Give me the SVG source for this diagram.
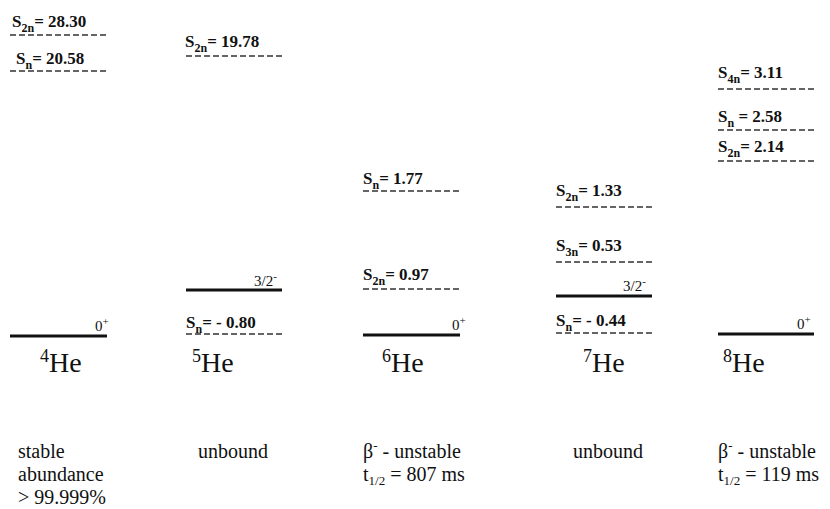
<svg xmlns="http://www.w3.org/2000/svg" width="830" height="509" viewBox="0 0 830 509">
<style>
  .lbl { font-family: "Liberation Serif", "Times New Roman", serif; font-weight: bold; font-size: 17px; fill: #111; }
  .sub { font-size: 12px; }
  .sup { font-size: 11px; }
  .jp { font-weight: normal; font-size: 15px; }
  .dash { stroke: #333; stroke-width: 1.3; stroke-dasharray: 6 3; fill: none; }
  .lvl { stroke: #111; stroke-width: 2.8; fill: none; }
  .nuc { font-family: "Liberation Serif", "Times New Roman", serif; font-size: 28px; fill: #111; }
  .nsup { font-size: 18px; }
  .desc { font-family: "Liberation Serif", "Times New Roman", serif; font-size: 20px; fill: #111; }
  .dsm { font-size: 13px; }
</style>
<rect width="830" height="509" fill="#fff"/>
<g id="connectors"></g>

<g id="He4">
  <text class="lbl" x="12" y="27">S<tspan class="sub" dy="5">2n</tspan><tspan dy="-5">= 28.30</tspan></text>
  <line class="dash" x1="10" y1="35" x2="107" y2="35"/>
  <text class="lbl" x="16" y="64">S<tspan class="sub" dy="5">n</tspan><tspan dy="-5">= 20.58</tspan></text>
  <line class="dash" x1="10" y1="71" x2="107" y2="71"/>
  <line class="lvl" x1="10" y1="336" x2="107" y2="336"/>
  <text class="lbl jp" x="95" y="331">0<tspan class="sup" dy="-6">+</tspan></text>
  <text class="nuc" x="40" y="372"><tspan class="nsup" dy="-10">4</tspan><tspan dy="10">He</tspan></text>
  <text class="desc" x="18" y="458">stable</text>
  <text class="desc" x="18" y="481">abundance</text>
  <text class="desc" x="18" y="504">&gt; 99.999%</text>
</g>

<g id="He5">
  <text class="lbl" x="185" y="47">S<tspan class="sub" dy="5">2n</tspan><tspan dy="-5">= 19.78</tspan></text>
  <line class="dash" x1="186" y1="56" x2="282" y2="56"/>
  <line class="lvl" x1="186" y1="290" x2="282" y2="290"/>
  <text class="lbl jp" x="254" y="286">3/2<tspan class="sup" dy="-6">-</tspan></text>
  <text class="lbl" x="186" y="328">S<tspan class="sub" dy="5">n</tspan><tspan dy="-5">= - 0.80</tspan></text>
  <line class="dash" x1="186" y1="334" x2="282" y2="334"/>
  <text class="nuc" x="192" y="372"><tspan class="nsup" dy="-10">5</tspan><tspan dy="10">He</tspan></text>
  <text class="desc" x="198" y="458">unbound</text>
</g>

<g id="He6">
  <text class="lbl" x="363" y="184">S<tspan class="sub" dy="5">n</tspan><tspan dy="-5">= 1.77</tspan></text>
  <line class="dash" x1="363" y1="191" x2="460" y2="191"/>
  <text class="lbl" x="363" y="280">S<tspan class="sub" dy="5">2n</tspan><tspan dy="-5">= 0.97</tspan></text>
  <line class="dash" x1="363" y1="289" x2="460" y2="289"/>
  <line class="lvl" x1="363" y1="335" x2="460" y2="335"/>
  <text class="lbl jp" x="452" y="330">0<tspan class="sup" dy="-6">+</tspan></text>
  <text class="nuc" x="382" y="372"><tspan class="nsup" dy="-10">6</tspan><tspan dy="10">He</tspan></text>
  <text class="desc" x="363" y="458">β<tspan class="dsm" dy="-8">-</tspan><tspan dy="8"> - unstable</tspan></text>
  <text class="desc" x="363" y="481">t<tspan class="dsm" dy="4">1/2</tspan><tspan dy="-4"> = 807 ms</tspan></text>
</g>

<g id="He7">
  <text class="lbl" x="556" y="196">S<tspan class="sub" dy="5">2n</tspan><tspan dy="-5">= 1.33</tspan></text>
  <line class="dash" x1="556" y1="207" x2="652" y2="207"/>
  <text class="lbl" x="556" y="251">S<tspan class="sub" dy="5">3n</tspan><tspan dy="-5">= 0.53</tspan></text>
  <line class="dash" x1="556" y1="262" x2="652" y2="262"/>
  <line class="lvl" x1="556" y1="296" x2="652" y2="296"/>
  <text class="lbl jp" x="623" y="291">3/2<tspan class="sup" dy="-6">-</tspan></text>
  <text class="lbl" x="556" y="326">S<tspan class="sub" dy="5">n</tspan><tspan dy="-5">= - 0.44</tspan></text>
  <line class="dash" x1="556" y1="333" x2="652" y2="333"/>
  <text class="nuc" x="583" y="372"><tspan class="nsup" dy="-10">7</tspan><tspan dy="10">He</tspan></text>
  <text class="desc" x="573" y="458">unbound</text>
</g>

<g id="He8">
  <text class="lbl" x="718" y="78">S<tspan class="sub" dy="5">4n</tspan><tspan dy="-5">= 3.11</tspan></text>
  <line class="dash" x1="718" y1="89" x2="814" y2="89"/>
  <text class="lbl" x="718" y="122">S<tspan class="sub" dy="5">n</tspan><tspan dy="-5"> = 2.58</tspan></text>
  <line class="dash" x1="718" y1="130" x2="814" y2="130"/>
  <text class="lbl" x="718" y="152">S<tspan class="sub" dy="5">2n</tspan><tspan dy="-5">= 2.14</tspan></text>
  <line class="dash" x1="718" y1="161" x2="814" y2="161"/>
  <line class="lvl" x1="718" y1="334" x2="814" y2="334"/>
  <text class="lbl jp" x="797" y="329">0<tspan class="sup" dy="-6">+</tspan></text>
  <text class="nuc" x="723" y="372"><tspan class="nsup" dy="-10">8</tspan><tspan dy="10">He</tspan></text>
  <text class="desc" x="718" y="458">β<tspan class="dsm" dy="-8">-</tspan><tspan dy="8"> - unstable</tspan></text>
  <text class="desc" x="718" y="481">t<tspan class="dsm" dy="4">1/2</tspan><tspan dy="-4"> = 119 ms</tspan></text>
</g>
</svg>
